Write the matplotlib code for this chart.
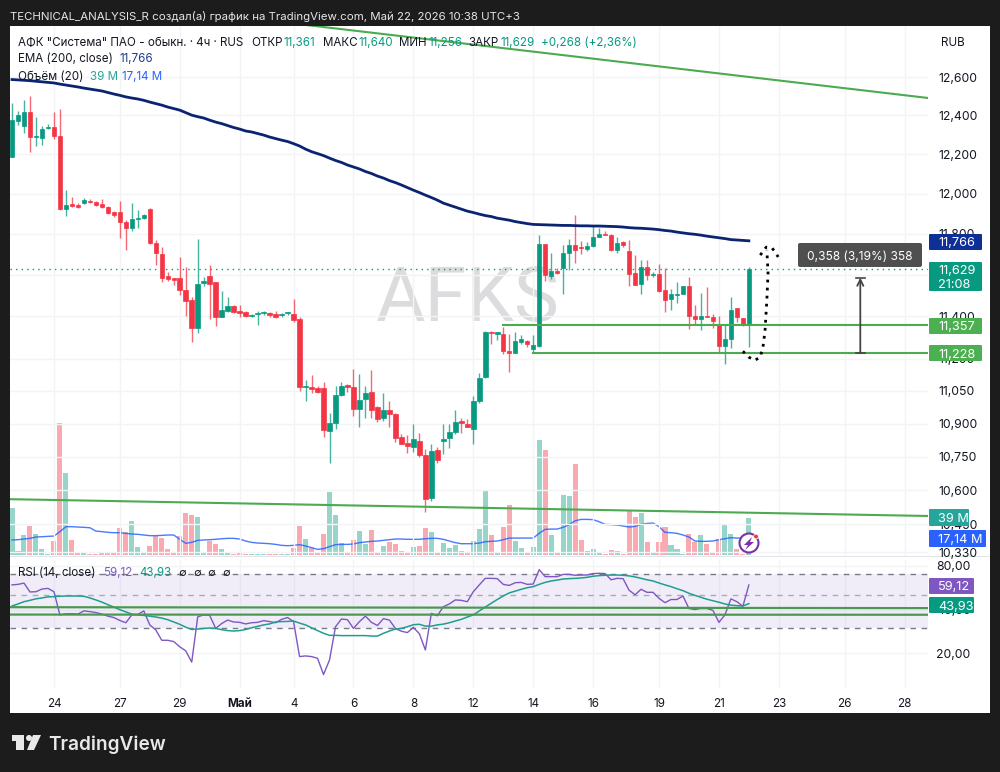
import matplotlib

matplotlib.use("Agg")
import matplotlib.pyplot as plt
from matplotlib.patches import Circle, FancyBboxPatch, Polygon, Rectangle
from matplotlib.ticker import NullLocator

plt.rcParams["font.family"] = ["Inter", "DejaVu Sans"]

opens = [
    12.185, 12.370, 12.344, 12.417, 12.288, 12.283, 12.334, 12.339, 12.293, 11.923,
    11.948, 11.943, 11.953, 11.965, 11.958, 11.948, 11.933, 11.908, 11.908, 11.858,
    11.829, 11.873, 11.878, 11.923, 11.755, 11.701, 11.594, 11.584, 11.584, 11.526,
    11.478, 11.344, 11.560, 11.594, 11.565, 11.395, 11.424, 11.449, 11.424, 11.419,
    11.400, 11.410, 11.415, 11.415, 11.410, 11.405, 11.415, 11.410, 11.386, 11.067,
    11.067, 11.063, 11.063, 10.866, 10.902, 11.030, 11.077, 11.067, 10.966, 11.012,
    11.044, 10.975, 10.925, 10.961, 10.943, 10.838, 10.811, 10.793, 10.820, 10.757,
    10.565, 10.779, 10.820, 10.834, 10.861, 10.911, 10.898, 10.875, 11.002, 11.114,
    11.325, 11.315, 11.315, 11.235, 11.226, 11.278, 11.282, 11.245, 11.259, 11.750,
    11.594, 11.618, 11.633, 11.706, 11.745, 11.735, 11.726, 11.740, 11.784, 11.799,
    11.794, 11.721, 11.760, 11.716, 11.608, 11.555, 11.638, 11.599, 11.603, 11.526,
    11.483, 11.502, 11.507, 11.545, 11.400, 11.386, 11.400, 11.395, 11.358, 11.259,
    11.292, 11.439, 11.391, 11.361,
]
highs = [
    12.464, 12.422, 12.480, 12.500, 12.391, 12.344, 12.354, 12.417, 12.432, 12.018,
    11.983, 11.953, 11.978, 11.973, 11.963, 11.973, 11.938, 11.913, 11.963, 11.868,
    11.953, 11.918, 11.898, 11.928, 11.770, 11.735, 11.613, 11.584, 11.687, 11.638,
    11.492, 11.775, 11.589, 11.647, 11.565, 11.521, 11.492, 11.453, 11.453, 11.424,
    11.410, 11.424, 11.424, 11.419, 11.424, 11.415, 11.419, 11.483, 11.395, 11.100,
    11.123, 11.072, 11.091, 10.948, 11.072, 11.091, 11.081, 11.151, 11.128, 11.072,
    11.146, 10.979, 11.040, 11.002, 10.948, 10.852, 10.848, 10.898, 10.857, 10.784,
    10.807, 10.793, 10.898, 10.898, 10.961, 10.925, 10.920, 11.026, 11.132, 11.329,
    11.329, 11.325, 11.348, 11.315, 11.325, 11.311, 11.287, 11.311, 11.794, 11.750,
    11.706, 11.633, 11.745, 11.775, 11.893, 11.765, 11.760, 11.844, 11.829, 11.814,
    11.799, 11.784, 11.765, 11.770, 11.696, 11.672, 11.672, 11.613, 11.652, 11.633,
    11.531, 11.565, 11.545, 11.589, 11.453, 11.512, 11.541, 11.410, 11.400, 11.358,
    11.492, 11.439, 11.391, 11.640,
]
lows = [
    12.185, 12.350, 12.308, 12.211, 12.242, 12.247, 12.329, 12.277, 11.918, 11.888,
    11.933, 11.928, 11.948, 11.953, 11.938, 11.928, 11.898, 11.883, 11.779, 11.721,
    11.814, 11.829, 11.873, 11.750, 11.647, 11.565, 11.570, 11.550, 11.502, 11.400,
    11.278, 11.320, 11.545, 11.386, 11.353, 11.395, 11.419, 11.415, 11.395, 11.395,
    11.395, 11.358, 11.405, 11.395, 11.391, 11.395, 11.405, 11.372, 11.049, 11.002,
    11.040, 11.040, 10.838, 10.721, 10.875, 11.026, 11.044, 10.934, 10.884, 10.925,
    10.925, 10.907, 10.911, 10.884, 10.816, 10.807, 10.766, 10.770, 10.748, 10.504,
    10.552, 10.721, 10.761, 10.788, 10.852, 10.857, 10.884, 10.807, 10.993, 11.109,
    11.268, 11.287, 11.221, 11.137, 11.226, 11.268, 11.254, 11.226, 11.254, 11.570,
    11.579, 11.603, 11.507, 11.623, 11.657, 11.701, 11.716, 11.735, 11.784, 11.794,
    11.716, 11.706, 11.735, 11.545, 11.550, 11.507, 11.575, 11.589, 11.516, 11.419,
    11.429, 11.463, 11.507, 11.339, 11.358, 11.334, 11.395, 11.344, 11.231, 11.174,
    11.249, 11.372, 11.353, 11.256,
]
closes = [
    12.375, 12.401, 12.417, 12.288, 12.293, 12.329, 12.342, 12.293, 11.923, 11.943,
    11.938, 11.933, 11.968, 11.958, 11.943, 11.933, 11.903, 11.893, 11.858, 11.829,
    11.873, 11.878, 11.893, 11.755, 11.706, 11.584, 11.579, 11.575, 11.526, 11.473,
    11.344, 11.555, 11.568, 11.555, 11.395, 11.429, 11.449, 11.419, 11.415, 11.400,
    11.405, 11.415, 11.419, 11.405, 11.395, 11.410, 11.419, 11.381, 11.067, 11.072,
    11.058, 11.044, 10.870, 10.902, 11.030, 11.072, 11.067, 10.966, 11.007, 11.040,
    10.961, 10.920, 10.961, 10.943, 10.834, 10.807, 10.797, 10.829, 10.757, 10.561,
    10.775, 10.735, 10.829, 10.861, 10.907, 10.902, 10.884, 11.002, 11.109, 11.325,
    11.320, 11.325, 11.235, 11.226, 11.282, 11.292, 11.268, 11.264, 11.750, 11.599,
    11.618, 11.608, 11.706, 11.745, 11.721, 11.730, 11.740, 11.784, 11.799, 11.794,
    11.721, 11.755, 11.745, 11.603, 11.550, 11.638, 11.599, 11.603, 11.521, 11.478,
    11.507, 11.507, 11.545, 11.400, 11.386, 11.400, 11.395, 11.376, 11.259, 11.292,
    11.429, 11.395, 11.358, 11.629,
]
ema_200 = [
    12.587, 12.585, 12.583, 12.581, 12.578, 12.575, 12.572, 12.569, 12.563, 12.558,
    12.553, 12.548, 12.542, 12.537, 12.532, 12.527, 12.519, 12.511, 12.504, 12.496,
    12.490, 12.485, 12.478, 12.469, 12.461, 12.453, 12.443, 12.435, 12.427, 12.414,
    12.401, 12.393, 12.386, 12.375, 12.365, 12.357, 12.347, 12.337, 12.329, 12.319,
    12.314, 12.306, 12.298, 12.288, 12.280, 12.272, 12.265, 12.254, 12.242, 12.226,
    12.213, 12.203, 12.193, 12.180, 12.168, 12.158, 12.145, 12.135, 12.125, 12.112,
    12.102, 12.089, 12.079, 12.066, 12.056, 12.044, 12.031, 12.018, 12.006, 11.993,
    11.981, 11.968, 11.953, 11.943, 11.933, 11.923, 11.913, 11.906, 11.898, 11.891,
    11.886, 11.878, 11.873, 11.868, 11.861, 11.856, 11.851, 11.847, 11.846, 11.845,
    11.844, 11.843, 11.842, 11.842, 11.841, 11.840, 11.840, 11.839, 11.839, 11.838,
    11.837, 11.836, 11.834, 11.831, 11.829, 11.828, 11.826, 11.824, 11.821, 11.817,
    11.814, 11.809, 11.805, 11.801, 11.798, 11.794, 11.789, 11.785, 11.781, 11.777,
    11.772, 11.770, 11.768, 11.766,
]
volumes = [
    49, 4, 21, 30, 22, 6, 1, 15, 138, 86,
    16, 3, 1.6, 0.8, 0.8, 1.6, 2, 2.6, 28, 24,
    36, 8, 1.6, 9.4, 20, 18, 6, 2.6, 20, 44,
    42, 40, 1.6, 15, 11.5, 6, 3, 1, 2.6, 1,
    1, 1, 1, 1, 1, 1, 1, 7.3, 30, 17,
    7.3, 2, 22, 66, 42, 12.5, 2, 16, 25, 11.5,
    26, 2, 9.4, 13.6, 11.5, 4, 2.6, 8.4, 9.4, 28,
    24, 3.4, 12.5, 7.3, 10.5, 4, 2, 15, 27, 68,
    21, 2.6, 29, 52, 15, 7.3, 1.6, 8.4, 120, 110,
    21, 3.4, 63, 62, 95, 16, 4, 6, 2.6, 1,
    5, 4, 1, 47, 40, 44, 13.6, 1.6, 13.6, 29,
    10.5, 6, 1, 22, 13.6, 21, 11.5, 3.4, 17, 32,
    22, 6, 1, 39,
]
volume_ma = [
    15.7, 16.0, 16.7, 17.4, 18.8, 19.1, 19.5, 19.8, 24.4, 29.6,
    29.6, 29.2, 28.9, 28.5, 25.0, 24.4, 23.7, 23.3, 23.3, 22.6,
    21.9, 21.6, 20.9, 20.2, 20.2, 20.5, 20.9, 20.9, 16.4, 12.2,
    13.2, 15.3, 15.7, 16.0, 16.4, 17.0, 17.4, 17.4, 16.7, 14.6,
    13.2, 12.5, 12.2, 11.8, 11.1, 10.1, 9.7, 10.1, 10.8, 9.4,
    7.7, 5.9, 6.6, 8.7, 10.8, 11.1, 11.1, 11.5, 12.9, 13.6,
    14.3, 14.6, 15.3, 16.0, 16.7, 16.7, 16.4, 16.4, 16.4, 17.0,
    17.4, 17.4, 16.4, 14.6, 12.9, 11.8, 11.8, 11.8, 12.5, 13.9,
    14.3, 14.6, 16.0, 17.7, 17.7, 17.7, 17.7, 17.7, 22.6, 26.8,
    27.1, 27.1, 28.9, 31.7, 35.8, 37.2, 37.2, 36.9, 34.8, 32.0,
    31.7, 31.3, 30.3, 29.2, 29.9, 32.0, 33.0, 33.4, 29.6, 23.7,
    23.3, 22.6, 20.9, 18.8, 14.6, 14.3, 14.3, 14.6, 16.0, 17.0,
    18.1, 17.7, 17.7, 17.14,
]
rsi = [
    59.2, 59.7, 60.9, 52.9, 53.1, 55.4, 56.0, 53.1, 36.7, 37.4,
    37.4, 37.2, 39.1, 38.7, 38.1, 37.2, 36.0, 35.2, 33.6, 32.4,
    36.7, 37.0, 39.1, 31.3, 28.9, 24.5, 24.5, 24.0, 22.1, 20.7,
    17.3, 35.6, 36.7, 36.4, 29.6, 32.0, 33.8, 32.8, 32.6, 31.8,
    32.4, 32.6, 33.5, 33.0, 32.4, 34.2, 35.2, 33.0, 18.9, 19.1,
    18.9, 18.4, 14.2, 17.9, 30.4, 34.4, 34.0, 29.6, 33.0, 36.0,
    32.6, 31.0, 34.6, 33.8, 29.6, 28.3, 27.7, 30.1, 27.2, 21.0,
    37.6, 36.2, 41.8, 43.7, 46.6, 46.3, 45.3, 53.1, 59.2, 65.7,
    65.7, 65.4, 59.7, 58.7, 61.3, 61.6, 59.7, 60.0, 75.4, 67.5,
    67.5, 67.5, 70.0, 70.0, 69.0, 69.3, 69.3, 70.9, 71.2, 70.9,
    64.2, 65.7, 65.4, 54.4, 50.6, 55.2, 52.6, 52.6, 47.8, 44.6,
    46.9, 46.9, 49.6, 40.6, 40.0, 40.6, 40.6, 39.5, 32.6, 36.7,
    47.4, 45.3, 42.1, 59.12,
]
rsi_ma = [
    42.3, 43.7, 45.3, 46.3, 47.4, 48.1, 48.9, 49.1, 49.4, 49.6,
    49.6, 49.6, 49.4, 48.1, 46.6, 45.0, 43.2, 41.6, 39.9, 38.5,
    37.2, 36.7, 36.4, 36.0, 35.5, 34.9, 34.0, 32.8, 31.6, 30.2,
    29.1, 29.3, 29.6, 29.8, 29.6, 29.0, 28.6, 28.4, 28.6, 29.1,
    29.9, 30.6, 31.3, 31.8, 32.8, 33.0, 33.1, 33.3, 32.2, 31.3,
    29.9, 28.6, 27.4, 26.5, 26.5, 26.4, 26.4, 26.4, 26.4, 26.4,
    26.2, 26.2, 27.4, 28.4, 29.3, 29.6, 30.4, 31.4, 31.6, 30.7,
    30.7, 31.3, 31.7, 32.4, 33.3, 34.2, 35.5, 36.7, 39.1, 41.6,
    44.2, 46.9, 49.6, 52.1, 53.6, 55.2, 56.6, 57.6, 59.7, 61.6,
    63.0, 63.9, 65.0, 65.4, 65.7, 66.1, 66.8, 67.9, 68.6, 69.0,
    69.3, 69.3, 69.0, 68.3, 67.2, 65.7, 64.2, 63.0, 61.0, 59.2,
    57.6, 55.7, 54.0, 51.8, 50.1, 48.6, 47.1, 46.0, 44.9, 43.7,
    42.9, 42.5, 42.3, 43.93,
]

price_ticks = [12.6, 12.4, 12.2, 12.0, 11.8, 11.6, 11.4, 11.2, 11.05, 10.9, 10.75, 10.6, 10.45, 10.33]
# the 11,600 label is fully covered by the 11,629 tag in the reference
price_labels = ["12,600", "12,400", "12,200", "12,000", "11,800", "", "11,400", "11,200",
                "11,050", "10,900", "10,750", "10,600", "10,450", "10,330"]
rsi_ticks = [80, 40, 20]
rsi_labels = ["80,00", "40,00", "20,00"]
time_ticks = [7, 18, 28, 38, 47, 57, 67, 77, 87, 97, 108, 118, 128, 139, 149]
time_labels = ["24", "27", "29", "Май", "4", "6", "8", "12", "14", "16", "19", "21", "23", "26", "28"]

level_upper = 11.357
level_lower = 11.228
measure_top = 11.586
trend_top = ([45, 153], [12.893, 12.490])
trend_bottom = ([-0.33, 153], [10.561, 10.487])
rsi_trend_a = ([-0.33, 153], [41.5, 40.9])
rsi_trend_b = ([-0.33, 153], [36.9, 36.8])
sketch_x = [122.0, 123.0, 124.0, 124.9, 125.4, 125.7, 126.0, 126.2, 126.0]
sketch_y = [11.235, 11.207, 11.193, 11.207, 11.264, 11.334, 11.478, 11.608, 11.721]
sketch_head_x = [124.9, 125.9, 126.9, 127.9]
sketch_head_y = [11.696, 11.735, 11.730, 11.687]

GREEN = "#089981"
RED = "#f23645"
LINE_GREEN = "#4caa50"
TAG_GREEN = "#4caf50"
GRID = "#f3f4f6"
TEXT = "#131722"
DARK = "#1c1c1c"
XLIM = (-0.334, 152.9)
W, H = 1000, 772


def pane(left, top, right, bottom, zorder):
    ax = fig.add_axes([left / W, 1 - bottom / H, (right - left) / W, (bottom - top) / H], zorder=zorder)
    ax.patch.set_visible(False)
    for spine in ax.spines.values():
        spine.set_visible(False)
    return ax


def tag(x0, x1, y0, y1, color, *lines):
    overlay.add_patch(FancyBboxPatch((x0 + 1, y0 + 1), x1 - x0 - 2, y1 - y0 - 2,
                                     boxstyle="round,pad=1", fc=color, ec="none"))
    step = (y1 - y0) / len(lines)
    for n, line in enumerate(lines):
        overlay.text(x0 + 9, y0 + step * (n + 0.5), line, color="white", fontsize=9.2, ha="left", va="center_baseline")


fig = plt.figure(figsize=(W / 100, H / 100), dpi=100, facecolor=DARK)

# white sheet and watermark sit behind everything
back = pane(0, 0, W, H, 0)
back.set_xlim(0, W)
back.set_ylim(H, 0)
back.axis("off")
back.add_patch(Rectangle((10, 26), 980, 687, fc="white", ec="none"))
back.add_patch(Rectangle((10, 555.5), 980, 1.4, fc="#e3e5ea", ec="none"))
back.text(468, 293, "AFKS", color="#dcdcde", fontsize=54.5, family="Roboto", ha="center", va="center_baseline")

# volume
ax_vol = pane(10, 26, 928, 555, 1)
ax_vol.set_xlim(*XLIM)
ax_vol.set_ylim(0, 552.8)
ax_vol.set_xticks([])
ax_vol.set_yticks([])
vol_colors = [GREEN if c >= o else RED for o, c in zip(opens, closes)]
ax_vol.bar(range(len(volumes)), volumes, width=0.84, color=vol_colors, alpha=0.42, linewidth=0)
ax_vol.plot(range(len(volume_ma)), volume_ma, color="#2962ff", lw=1, alpha=0.85)

# price
ax_price = pane(10, 26, 928, 556, 2)
ax_price.set_yscale("log")
ax_price.set_xlim(*XLIM)
ax_price.set_ylim(10.313, 12.872)
ax_price.yaxis.tick_right()
ax_price.set_yticks(price_ticks)
ax_price.set_yticklabels(price_labels)
ax_price.yaxis.set_minor_locator(NullLocator())
ax_price.set_xticks(time_ticks)
ax_price.tick_params(axis="both", length=0, labelbottom=False)
ax_price.tick_params(axis="y", pad=7.5, labelsize=8.8, labelcolor=TEXT)
ax_price.grid(color=GRID, lw=1)
ax_price.set_axisbelow(True)

ax_price.axhline(closes[-1], color=GREEN, lw=1, ls=(0, (1, 3)), zorder=1.5)
for i, (o, h, l, c) in enumerate(zip(opens, highs, lows, closes)):
    color = GREEN if c >= o else RED
    ax_price.vlines(i, l, h, color=color, lw=1, alpha=0.75, zorder=2)
    ax_price.bar(i, abs(c - o), bottom=min(o, c), width=0.75, color=color, edgecolor=color, lw=0.5, zorder=3)

ax_price.plot(range(len(ema_200)), ema_200, color="#0a2472", lw=2, zorder=4)
ax_price.plot(*trend_top, color=LINE_GREEN, lw=1.5, zorder=4)
ax_price.plot(*trend_bottom, color=LINE_GREEN, lw=1.5, zorder=4)
ax_price.plot([82, 153], [level_upper, level_upper], color=LINE_GREEN, lw=1.5, zorder=4)
ax_price.plot([87, 153], [level_lower, level_lower], color=LINE_GREEN, lw=1.5, zorder=4)
ax_price.plot(sketch_x, sketch_y, color="black", lw=2, ls=(0, (1, 1.9)), zorder=5)
ax_price.plot(sketch_head_x, sketch_head_y, color="black", lw=2, ls=(0, (1, 1.9)), zorder=5)
ax_price.annotate("", xy=(141.6, measure_top), xytext=(141.6, level_lower), zorder=5,
                  arrowprops=dict(arrowstyle="->", color="#444444", lw=1.3, shrinkA=0, shrinkB=0, mutation_scale=11))
ax_price.plot([140.8, 142.4], [level_lower, level_lower], color="#444444", lw=1.2, zorder=5)
ax_price.plot([140.8, 142.4], [measure_top, measure_top], color="#444444", lw=1.2, zorder=5)

# rsi
ax_rsi = pane(10, 560, 928, 688, 2)
ax_rsi.set_yscale("log")
ax_rsi.set_xlim(*XLIM)
ax_rsi.set_ylim(11.46, 88.0)
ax_rsi.yaxis.tick_right()
ax_rsi.set_yticks(rsi_ticks)
ax_rsi.set_yticklabels(rsi_labels)
ax_rsi.yaxis.set_minor_locator(NullLocator())
ax_rsi.set_xticks(time_ticks)
ax_rsi.set_xticklabels(time_labels)
ax_rsi.tick_params(axis="both", length=0)
ax_rsi.tick_params(axis="y", pad=6, labelsize=8.8, labelcolor=TEXT)
ax_rsi.tick_params(axis="x", pad=7, labelsize=8.4, labelcolor=TEXT)
ax_rsi.get_xticklabels()[3].set_fontweight("bold")
ax_rsi.grid(color=GRID, lw=1)
ax_rsi.set_axisbelow(True)
ax_rsi.axhspan(30, 70, color="#7e57c2", alpha=0.1, lw=0)
for level, tone in ((70, "#787b86"), (50, "#a9abb3"), (30, "#787b86")):
    ax_rsi.axhline(level, color=tone, lw=1, ls=(0, (4, 4)))
ax_rsi.plot(range(len(rsi)), rsi, color="#7e57c2", lw=1)
ax_rsi.plot(range(len(rsi_ma)), rsi_ma, color="#1f9e8e", lw=1.1)
ax_rsi.plot(*rsi_trend_a, color="#4a9a4e", lw=1.6)
ax_rsi.plot(*rsi_trend_b, color="#4a9a4e", lw=1.6)

# header, legends, price tags and logo are placed on the page in pixels
overlay = pane(0, 0, W, H, 5)
overlay.set_xlim(0, W)
overlay.set_ylim(H, 0)
overlay.axis("off")

overlay.text(10, 15, "TECHNICAL_ANALYSIS_R создал(а) график на TradingView.com, Май 22, 2026 10:38 UTC+3",
             color="#e6e6e6", fontsize=8.25, va="center_baseline")

LEGEND = 8.35
overlay.text(18, 41.5, 'АФК "Система" ПАО - обыкн. · 4ч · RUS', color=TEXT, fontsize=LEGEND, va="center_baseline")
for x, offset, label, value in ((251, 32, "ОТКР", "11,361"), (323, 35, "МАКС", "11,640"),
                                (399, 29, "МИН", "11,256"), (468, 32, "ЗАКР", "11,629")):
    overlay.text(x, 41.5, label, color=TEXT, fontsize=LEGEND, va="center_baseline")
    overlay.text(x + offset, 41.5, value, color=GREEN, fontsize=LEGEND, va="center_baseline")
overlay.text(541, 41.5, "+0,268 (+2,36%)", color=GREEN, fontsize=LEGEND, va="center_baseline")
overlay.text(18, 58, "EMA (200, close)", color=TEXT, fontsize=LEGEND, va="center_baseline")
overlay.text(119, 58, "11,766", color="#1f3a8f", fontsize=LEGEND, va="center_baseline")
overlay.text(18, 75, "Объём (20)", color=TEXT, fontsize=LEGEND, va="center_baseline")
overlay.text(90, 75, "39 M", color="#26a69a", fontsize=LEGEND, va="center_baseline")
overlay.text(122, 75, "17,14 M", color="#2962ff", fontsize=LEGEND, va="center_baseline")
overlay.text(941, 42, "RUB", color=TEXT, fontsize=8.4, va="center_baseline")
overlay.text(18, 572, "RSI (14, close)", color=TEXT, fontsize=LEGEND, va="center_baseline")
overlay.text(103, 572, "59,12", color="#7e57c2", fontsize=LEGEND, va="center_baseline")
overlay.text(139, 572, "43,93", color=GREEN, fontsize=LEGEND, va="center_baseline")
for x in (182, 197, 211, 226):
    overlay.text(x, 572, "∅", color=TEXT, fontsize=8, ha="center", va="center_baseline")

tag(929, 982, 234, 250, "#0d2f96", "11,766")
tag(929, 982, 262, 291, GREEN, "11,629", "21:08")
tag(929, 982, 318, 334, TAG_GREEN, "11,357")
tag(929, 982, 345, 361, TAG_GREEN, "11,228")
tag(929, 969, 509, 526, "#26a69a", "39 M")
tag(929, 986, 530, 547, "#2962ff", "17,14 M")
tag(929, 974, 578, 594, "#7e57c2", "59,12")
tag(929, 974, 597, 613, GREEN, "43,93")

overlay.add_patch(FancyBboxPatch((800, 245), 120, 20, boxstyle="round,pad=2", fc="#4f4f4f", ec="none"))
overlay.text(860, 255.5, "0,358 (3,19%) 358", color="white", fontsize=8.6, ha="center", va="center_baseline")

# lightning badge at the last bar
overlay.add_patch(Circle((749, 543), 9.5, fc="white", ec="#7b2fa8", lw=1.5))
overlay.add_patch(Polygon([(752, 537), (744, 545), (748, 545), (745, 550), (754, 542), (750, 542)], fc="#7b2fa8", ec="none"))
overlay.add_patch(Circle((756, 536.5), 2.3, fc="#e53935", ec="white", lw=0.5))

# TradingView logo
overlay.add_patch(Polygon([(12, 735), (24, 735), (24, 750), (16, 750), (16, 741), (12, 741)], fc="#e8e8e8", ec="none"))
overlay.add_patch(Circle((29, 738), 3, fc="#e8e8e8", ec="none"))
overlay.add_patch(Polygon([(33, 735), (41, 735), (34, 750), (27, 750)], fc="#e8e8e8", ec="none"))
overlay.text(48, 743, "TradingView", color="#e8e8e8", fontsize=13.7, fontweight="semibold", va="center_baseline")

fig.savefig("out.png", dpi=100, facecolor=DARK)
